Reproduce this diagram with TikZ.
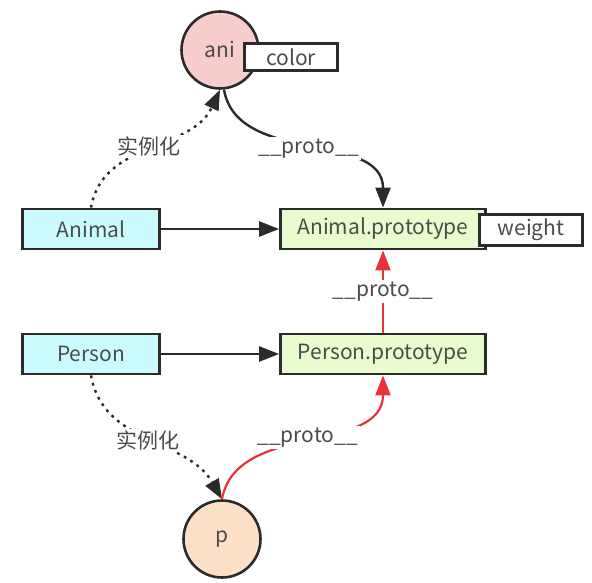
\documentclass[tikz,border=0pt]{standalone}
\usepackage{fontspec}
\setmainfont{Noto Sans CJK SC}
\usepackage{xcolor}
\usetikzlibrary{arrows.meta,positioning}

\definecolor{edge}{HTML}{2B2B2B}
\definecolor{anifill}{HTML}{F8CECC}
\definecolor{pfill}{HTML}{FCE1C8}
\definecolor{ctorfill}{HTML}{CCFBFF}
\definecolor{protofill}{HTML}{E8FCCF}
\definecolor{protored}{HTML}{E8313B}

\begin{document}
\begin{tikzpicture}[x=0.5pt,y=0.5pt,font=\fontsize{10.5}{12}\selectfont,
  every node/.style={text=edge!85},
  box/.style={draw=edge,line width=1.4pt,inner sep=0pt,minimum height=20pt},
  obj/.style={draw=edge,line width=1.3pt,circle,inner sep=0pt,minimum size=38.5pt},
  slot/.style={draw=edge,line width=1.3pt,fill=white,inner sep=0pt},
  arr/.style={draw=edge,line width=1.2pt,-{Triangle[length=10pt,width=7.5pt]}},
  protoarr/.style={draw=protored,line width=1.1pt,-{Triangle[length=10pt,width=7.5pt]}},
  dots/.style={dash pattern=on 1.4pt off 2.4pt},
  lbl/.style={fill=white,inner sep=1pt}]
\useasboundingbox (0,0) rectangle (592,-582);

\node[obj,fill=anifill] (ani) at (220,-50) {ani};
\node[slot,minimum width=46.5pt,minimum height=13.5pt] (color) at (291,-57) {color};

\node[box,fill=ctorfill,minimum width=68.5pt] (animal) at (91,-229) {Animal};
\node[box,fill=protofill,minimum width=102.5pt] (aproto) at (383,-229) {Animal.prototype};
\node[slot,minimum width=51.5pt,minimum height=15.5pt] (weight) at (531,-230) {weight};

\node[box,fill=ctorfill,minimum width=68.5pt] (person) at (91,-354) {Person};
\node[box,fill=protofill,minimum width=102.5pt] (pproto) at (383,-354) {Person.prototype};

\node[obj,fill=pfill] (p) at (222,-539) {p};

\draw[arr] (animal) -- (aproto);
\draw[arr] (person) -- (pproto);
\draw[arr,dots] (animal.north) to[out=80,in=-115] node[lbl,pos=0.5]{实例化} (ani.south);
\draw[arr] ([xshift=2pt]ani.south) to[out=-80,in=90] node[lbl]{\_\_proto\_\_} (aproto.north);
\draw[protoarr] (pproto) -- node[lbl]{\_\_proto\_\_} (aproto);
\draw[arr,dots] (person.south) to[out=-80,in=120] node[lbl]{实例化} (p.north);
\draw[protoarr] (p.north) to[out=80,in=-90] node[lbl]{\_\_proto\_\_} (pproto.south);
\end{tikzpicture}
\end{document}
